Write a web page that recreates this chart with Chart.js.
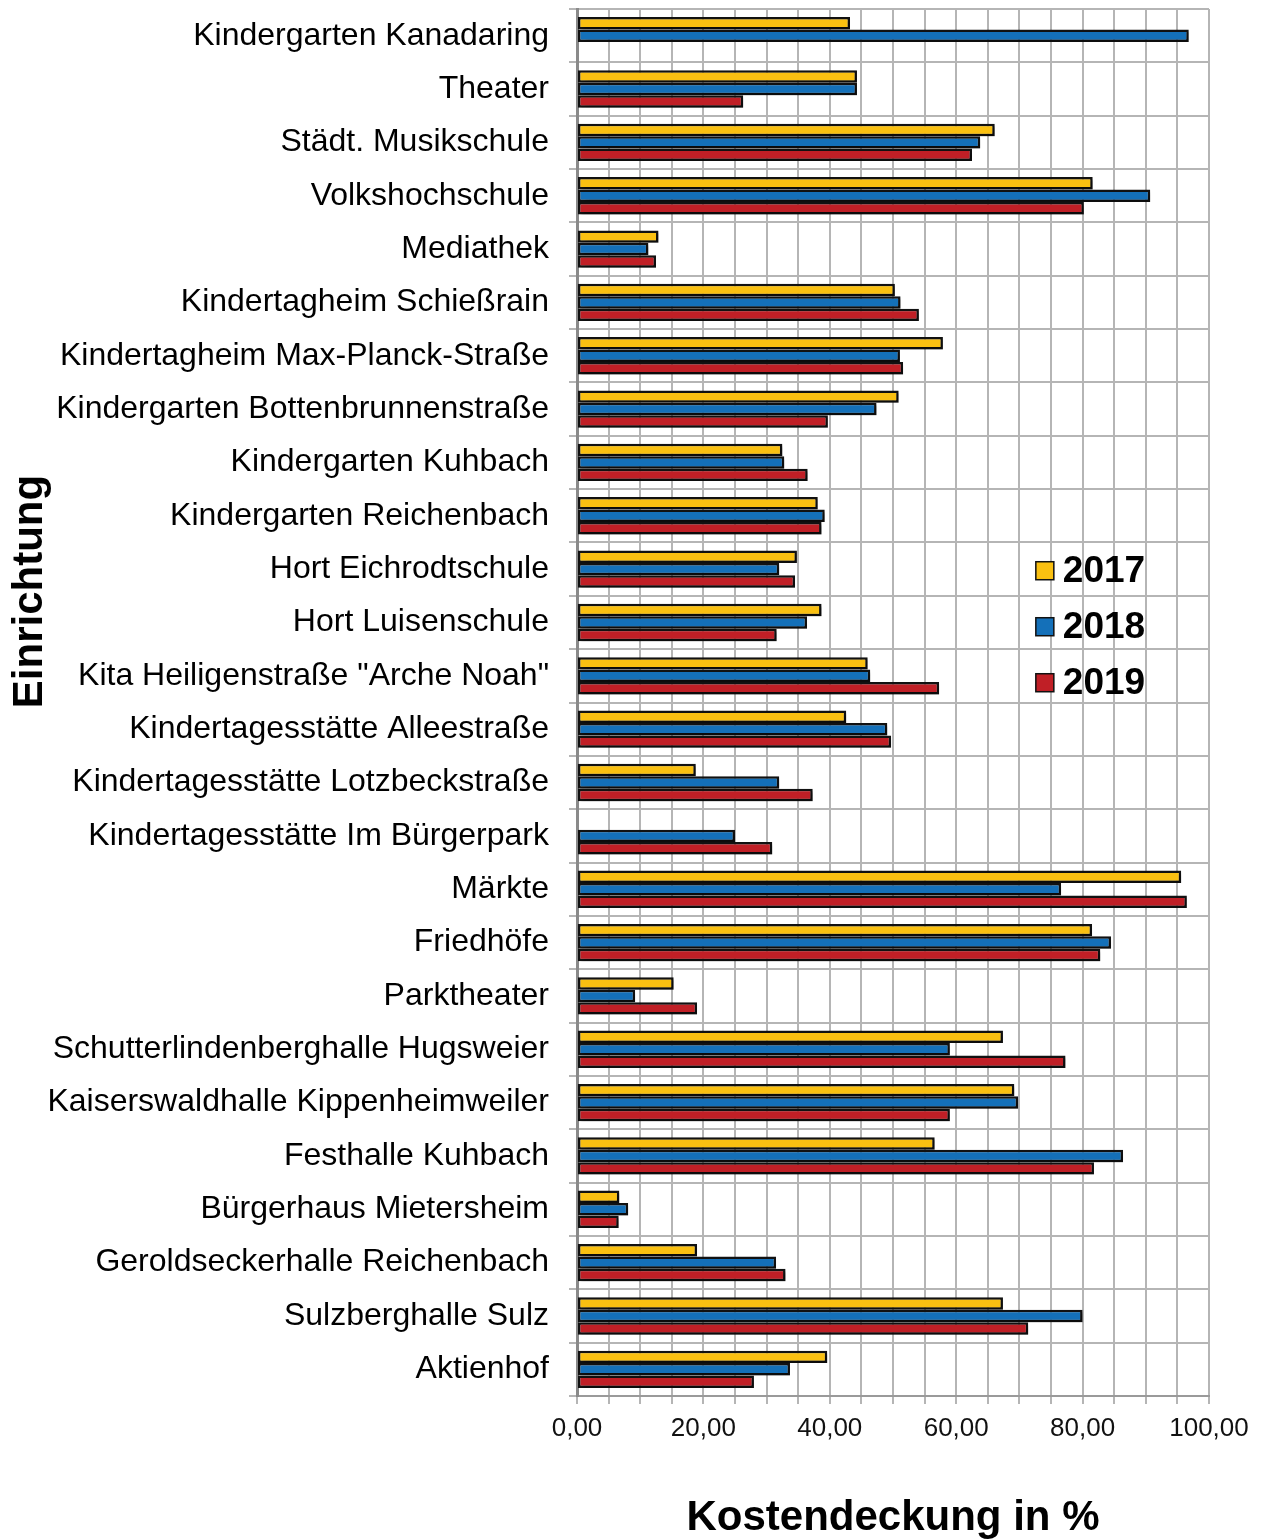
<!DOCTYPE html>
<html>
<head>
<meta charset="utf-8">
<title>Kostendeckung</title>
<script src="https://cdn.jsdelivr.net/npm/chart.js@4"></script>
<style>
    html, body { margin: 0; padding: 0; background: #ffffff; }
    .chart-box { position: relative; width: 1261px; height: 1540px; }
</style>
</head>
<body>
<div class="chart-box">
    <canvas id="kostenChart"></canvas>
</div>
<script>
// ========================
// Data
// ========================
const categories = [
    'Kindergarten Kanadaring',
    'Theater',
    'Städt. Musikschule',
    'Volkshochschule',
    'Mediathek',
    'Kindertagheim Schießrain',
    'Kindertagheim Max-Planck-Straße',
    'Kindergarten Bottenbrunnenstraße',
    'Kindergarten Kuhbach',
    'Kindergarten Reichenbach',
    'Hort Eichrodtschule',
    'Hort Luisenschule',
    'Kita Heiligenstraße "Arche Noah"',
    'Kindertagesstätte Alleestraße',
    'Kindertagesstätte Lotzbeckstraße',
    'Kindertagesstätte Im Bürgerpark',
    'Märkte',
    'Friedhöfe',
    'Parktheater',
    'Schutterlindenberghalle Hugsweier',
    'Kaiserswaldhalle Kippenheimweiler',
    'Festhalle Kuhbach',
    'Bürgerhaus Mietersheim',
    'Geroldseckerhalle Reichenbach',
    'Sulzberghalle Sulz',
    'Aktienhof'
];

const years = ['2017', '2018', '2019'];

const values2017 = [43.2, 44.3, 66.1, 81.6, 12.9, 50.3, 57.9, 50.9, 32.5, 38.1,
    34.8, 38.7, 46.0, 42.6, 18.8, null, 95.6, 81.5, 15.3, 67.4,
    69.2, 56.6, 6.7, 19.0, 67.4, 39.6];

const values2018 = [96.8, 44.3, 63.8, 90.7, 11.3, 51.2, 51.1, 47.4, 32.8, 39.2,
    32.0, 36.4, 46.4, 49.1, 32.0, 25.0, 76.6, 84.5, 9.2, 59.0,
    69.8, 86.4, 8.1, 31.5, 80.0, 33.7];

const values2019 = [null, 26.3, 62.5, 80.2, 12.5, 54.1, 51.6, 39.7, 36.5, 38.7,
    34.5, 31.6, 57.3, 49.7, 37.3, 30.9, 96.5, 82.8, 19.0, 77.3,
    59.0, 81.8, 6.6, 33.0, 71.4, 28.0];

const xTickValues = [0, 20, 40, 60, 80, 100];

const yearColors = ['#FAC011', '#1470B9', '#C01F26'];

// ========================
// Plugins
// ========================

// soft drop shadow behind the bars
const barShadow = {
    id: 'barShadow',
    beforeDatasetsDraw(chart) {
        const ctx = chart.ctx;
        ctx.save();
        ctx.shadowColor = 'rgba(0, 0, 0, 0.35)';
        ctx.shadowOffsetX = 3;
        ctx.shadowOffsetY = 3;
        ctx.shadowBlur = 3;
    },
    afterDatasetsDraw(chart) {
        chart.ctx.restore();
    }
};

// legend sitting inside the plot area
const innerLegend = {
    id: 'innerLegend',
    afterDraw(chart) {
        const { ctx, chartArea } = chart;
        const w = chartArea.right - chartArea.left;
        const h = chartArea.bottom - chartArea.top;
        const x = chartArea.left + w * 0.726;
        let y = chartArea.top + h * 0.405;
        ctx.save();
        ctx.font = 'bold 37px "Liberation Sans", Arial, sans-serif';
        ctx.textBaseline = 'middle';
        ctx.textAlign = 'left';
        chart.data.datasets.forEach(ds => {
            ctx.fillStyle = ds.backgroundColor;
            ctx.fillRect(x, y - 9, 18, 18);
            ctx.lineWidth = 1.5;
            ctx.strokeStyle = '#111111';
            ctx.strokeRect(x, y - 9, 18, 18);
            ctx.fillStyle = '#000000';
            ctx.fillText(ds.label, x + 27, y + 1);
            y += 56;
        });
        ctx.restore();
    }
};

// vertical axis title, placed a bit above centre like in the original
const yTitle = {
    id: 'yTitle',
    afterDraw(chart) {
        const { ctx, chartArea } = chart;
        const h = chartArea.bottom - chartArea.top;
        ctx.save();
        ctx.translate(30, chartArea.top + h * 0.42);
        ctx.rotate(-Math.PI / 2);
        ctx.font = 'bold 42px "Liberation Sans", Arial, sans-serif';
        ctx.fillStyle = '#000000';
        ctx.textAlign = 'center';
        ctx.textBaseline = 'middle';
        ctx.fillText('Einrichtung', 0, 0);
        ctx.restore();
    }
};

// ========================
// Chart
// ========================
const seriesValues = [values2017, values2018, values2019];

new Chart(document.getElementById('kostenChart'), {
    type: 'bar',
    data: {
        labels: categories,
        datasets: years.map((year, i) => ({
            label: year,
            data: seriesValues[i],
            backgroundColor: yearColors[i],
            borderColor: '#111111',
            borderWidth: 2.5,
            borderSkipped: false,
            categoryPercentage: 0.7,
            barPercentage: 1.0
        }))
    },
    options: {
        indexAxis: 'y',
        responsive: true,
        maintainAspectRatio: false,
        animation: false,
        layout: {
            padding: { top: 9, right: 52, bottom: 0, left: 0 }
        },
        plugins: {
            legend: { display: false },
            tooltip: { enabled: false }
        },
        scales: {
            x: {
                min: 0,
                max: 100,
                afterFit(scale) { scale.height = 144; },
                ticks: {
                    stepSize: 5,
                    autoSkip: false,
                    maxRotation: 0,
                    padding: 9,
                    color: '#111111',
                    font: { size: 26, family: '"Liberation Sans", Arial, sans-serif' },
                    callback: function(value) {
                        return xTickValues.includes(value) ? value.toFixed(2).replace('.', ',') : '';
                    }
                },
                grid: {
                    color: '#b5b5b5',
                    lineWidth: 2,
                    tickLength: 8
                },
                border: { color: '#9a9a9a', width: 2 },
                title: {
                    display: true,
                    text: 'Kostendeckung in %',
                    color: '#000000',
                    font: { size: 42, weight: 'bold', lineHeight: 1.05, family: '"Liberation Sans", Arial, sans-serif' },
                    padding: { top: 0, bottom: 0 }
                }
            },
            y: {
                offset: true,
                afterFit(scale) {
                    scale.width = 577;
                    scale.paddingTop = 0;
                    scale.paddingBottom = 0;
                },
                ticks: {
                    autoSkip: false,
                    padding: 20,
                    color: '#000000',
                    font: { size: 32, family: '"Liberation Sans", Arial, sans-serif' }
                },
                grid: {
                    offset: true,
                    color: '#b5b5b5',
                    lineWidth: 2,
                    tickLength: 8
                },
                border: { color: '#8a8a8a', width: 3 }
            }
        }
    },
    plugins: [barShadow, innerLegend, yTitle]
});
</script>
</body>
</html>
